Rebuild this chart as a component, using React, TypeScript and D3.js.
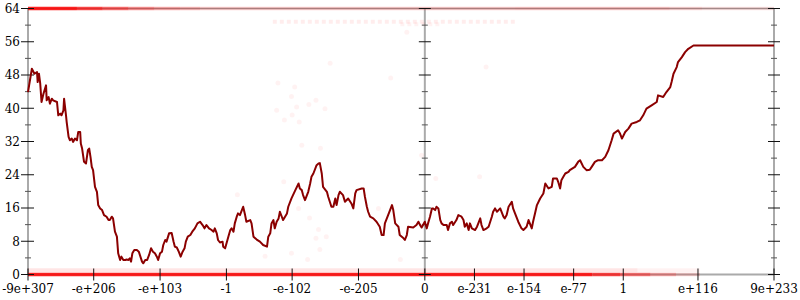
import React from "react";
import * as d3 from "d3";

// x positions are in "decades" of the signed double value, 0 = zero, mirrored for negatives
const xTickValues = [-616, -514, -411, -308, -206, -103, 0, 77, 154, 231, 308, 424, 542];
const xTickLabels = ["-9e+307", "-e+206", "-e+103", "-1", "-e-102", "-e-205", "0", "e-231", "e-154", "e-77", "1", "e+116", "9e+233"];
const yMajorTicks = [0, 8, 16, 24, 32, 40, 48, 56, 64];
const yMinorTicks = [4, 12, 20, 28, 36, 44, 52, 60];

const lineX = [
  -616, -610, -606, -602, -601, -599, -597, -595, -592, -588, -587, -584, -582, -579, -577, -571, -569, -566, -564, -561,
  -560, -557, -556, -553, -551, -548, -546, -543, -540, -538, -535, -534, -532, -529, -526, -523, -521, -519, -517, -515,
  -512, -509, -507, -504, -501, -498, -494, -491, -489, -486, -484, -481, -478, -476, -473, -471, -468, -465, -463, -460,
  -458, -456, -454, -451, -447, -444, -439, -437, -434, -431, -428, -425, -422, -419, -416, -414, -411, -408, -406, -403,
  -401, -397, -393, -390, -388, -385, -382, -379, -376, -373, -371, -368, -364, -361, -357, -353, -349, -345, -342, -339,
  -335, -331, -328, -326, -323, -321, -318, -314, -313, -310, -305, -302, -300, -297, -295, -292, -290, -287, -284, -282,
  -279, -277, -271, -269, -266, -261, -256, -251, -245, -243, -240, -238, -235, -233, -230, -227, -225, -220, -214, -212,
  -207, -201, -196, -194, -191, -189, -186, -181, -178, -176, -173, -168, -165, -163, -160, -158, -152, -150, -145, -142,
  -139, -137, -134, -132, -127, -124, -119, -114, -111, -108, -106, -98, -95, -93, -90, -88, -85, -80, -75, -70,
  -67, -64, -62, -57, -54, -51, -49, -46, -41, -39, -33, -31, -28, -26, -18, -13, -10, -7, -5, 0,
  3, 5, 8, 11, 13, 16, 18, 21, 24, 26, 29, 34, 36, 39, 42, 44, 49, 52, 57, 60,
  62, 65, 68, 70, 73, 78, 81, 83, 86, 88, 91, 96, 99, 104, 106, 109, 112, 117, 122, 124,
  127, 130, 135, 137, 140, 145, 150, 153, 158, 161, 166, 168, 171, 174, 179, 184, 187, 192, 197, 199,
  205, 207, 210, 212, 215, 218, 223, 225, 233, 238, 241, 246, 251, 256, 259, 264, 269, 275, 280, 285,
  290, 293, 300, 303, 306, 311, 316, 321, 329, 334, 339, 344, 352, 360, 362, 370, 375, 381, 383, 386,
  391, 393, 399, 404, 409, 417, 542,
];
const lineY = [
  43.9, 49.5, 48.3, 48.7, 46.3, 48.3, 45.9, 41.5, 43.5, 45.5, 41.9, 42.7, 41.1, 42.3, 41.9, 41.5, 38.3, 38.7, 38.3, 39.5,
  42.3, 38.3, 36.7, 33.1, 32.3, 32.7, 31.9, 32.7, 32.3, 34.3, 34.3, 31.5, 30.3, 27.1, 26.7, 29.9, 30.3, 28.3, 25.9, 25.1,
  21.1, 19.9, 16.7, 15.9, 15.5, 14.3, 13.9, 13.1, 13.1, 13.9, 13.5, 10.3, 9.1, 5.1, 3.5, 4.3, 3.5, 3.5, 3.6, 3.5,
  3.9, 3.1, 5.1, 5.9, 5.9, 5.5, 3.1, 2.7, 3.5, 3.5, 4.7, 6.3, 5.5, 5.1, 4.3, 3.5, 5.1, 5.5, 7.1, 8.3,
  7.9, 9.9, 10.0, 7.9, 6.7, 6.5, 5.5, 4.3, 5.5, 6.3, 7.9, 9.1, 9.5, 10.3, 11.1, 12.3, 12.7, 11.9, 11.1, 11.9,
  11.1, 10.7, 10.3, 11.1, 9.9, 8.3, 7.7, 7.9, 6.7, 6.3, 9.1, 10.7, 11.1, 10.3, 12.3, 13.9, 14.7, 14.3, 15.5, 16.3,
  14.3, 12.7, 13.1, 12.3, 9.1, 8.4, 7.9, 7.1, 6.7, 9.1, 9.9, 12.3, 13.1, 11.1, 12.7, 13.5, 15.1, 13.1, 14.7, 16.3,
  18.3, 20.3, 21.9, 20.7, 20.3, 19.1, 17.9, 19.9, 21.9, 23.5, 24.3, 26.3, 26.7, 26.8, 24.3, 21.1, 19.9, 18.7, 16.3, 16.3,
  18.3, 16.7, 19.1, 19.9, 19.1, 17.5, 18.3, 17.1, 15.9, 19.5, 20.3, 20.7, 20.7, 18.7, 16.3, 15.1, 13.9, 13.5, 12.7, 11.5,
  9.5, 9.5, 12.3, 14.3, 15.5, 16.7, 15.5, 12.3, 11.5, 9.5, 8.7, 8.3, 9.5, 11.5, 11.3, 11.9, 12.7, 11.8, 11.3, 12.7,
  11.1, 12.3, 13.9, 15.9, 15.9, 15.5, 16.3, 15.9, 13.1, 12.3, 11.9, 11.9, 10.7, 12.3, 12.7, 11.9, 13.1, 14.3, 13.9, 13.1,
  11.5, 12.3, 10.7, 12.3, 11.1, 10.7, 11.5, 12.3, 13.5, 11.9, 10.7, 11.1, 11.5, 13.9, 15.1, 15.9, 15.1, 15.9, 13.9, 13.5,
  14.3, 16.3, 17.5, 15.9, 14.7, 12.7, 11.1, 10.7, 11.5, 13.1, 11.1, 12.7, 14.7, 16.7, 18.3, 19.5, 21.9, 20.7, 21.1, 23.1,
  23.1, 22.3, 20.7, 22.7, 23.5, 24.3, 24.7, 25.1, 25.9, 27.1, 27.5, 25.9, 25.1, 25.2, 25.9, 27.1, 27.5, 27.5, 28.3, 29.9,
  32.3, 33.9, 34.7, 33.9, 32.7, 34.3, 35.1, 36.3, 36.7, 37.1, 38.3, 39.9, 40.7, 41.5, 43.1, 42.7, 43.9, 45.1, 46.3, 48.3,
  49.9, 51.1, 52.3, 53.5, 54.3, 55.1, 55.1,
];

// dense sample bands (start, end, value, opacity)
const bandStart = [-616, -540, -500, -460, -420, -380, -349, 140, 380, 430, -616, 260, 303, 350, 390, -616, 330];
const bandEnd = [-540, -500, -460, -420, -380, -349, 140, 380, 430, 542, 260, 303, 350, 390, 427, 330, 427];
const bandValue = [64, 64, 64, 64, 64, 64, 64, 64, 64, 64, 0, 0, 0, 0, 0, 1, 1];
const bandOpacity = [0.85, 0.7, 0.55, 0.4, 0.3, 0.25, 0.18, 0.2, 0.15, 0.1, 0.85, 0.7, 0.5, 0.3, 0.15, 0.1, 0.05];

// sparse row of samples near the top (start, end, value, opacity)
const rowStart = [-236, -38];
const rowEnd = [140, 24];
const rowValue = [60.8, 60.2];
const rowOpacity = [0.07, 0.05];

// scattered faint samples
const dotX = [-147, -228, -202, -207, -199, -230, -218, -206, -195, -180, -169, -155, -53, -191, -162, -219, -5, 17, -291, -196,
  -179, -165, -153, -169, -163, -207, -182, -248, -72, -38, 95, -28, 85];
const dotY = [50.8, 46.1, 45.1, 42.8, 40.3, 39.5, 37.2, 38.4, 36.7, 40.9, 41.9, 39.9, 47.3, 31.1, 30.4, 22.3, 28.7, 23.1, 19.2, 15.9,
  13.6, 10.8, 9.1, 8.7, 6.0, 5.1, 3.6, 4.4, 15.9, 3.6, 49.9, 58.3, 23.5];

export default function App() {
  const W = 800, H = 300;
  const x = d3.scaleLinear().domain([-616, 542]).range([28, 774]);
  const y = d3.scaleLinear().domain([0, 64]).range([274.5, 8.5]);
  const line = d3.line<number>().x((_, i) => x(lineX[i])).y((d) => y(d));
  const axisXs = [x(-616), x(0), x(542)];
  const font = "'DejaVu Serif', serif";

  return (
    <svg width={W} height={H} style={{ position: "absolute", left: 0, top: 0, background: "#fff" }}>
      {/* frame lines */}
      <line x1={x(-616)} x2={x(542)} y1={y(64)} y2={y(64)} stroke="#999" strokeWidth={1.5} />
      <line x1={x(-616)} x2={x(542)} y1={y(0)} y2={y(0)} stroke="#aaa" strokeWidth={2} />
      {axisXs.map((ax, i) => (
        <line key={"ax" + i} x1={ax} x2={ax} y1={y(0)} y2={y(64)} stroke="#aaa" strokeWidth={2} />
      ))}
      {/* bands */}
      {bandStart.map((s, i) => (
        <line key={"b" + i} x1={x(s)} x2={x(bandEnd[i])} y1={y(bandValue[i])} y2={y(bandValue[i])}
          stroke="#ff0000" strokeOpacity={bandOpacity[i]} strokeWidth={bandValue[i] === 1 ? 4 : 3.5} />
      ))}
      {rowStart.map((s, i) => (
        <line key={"r" + i} x1={x(s)} x2={x(rowEnd[i])} y1={y(rowValue[i])} y2={y(rowValue[i])}
          stroke="#ff0000" strokeOpacity={rowOpacity[i]} strokeWidth={4} strokeDasharray="4 3" />
      ))}
      {dotX.map((d, i) => (
        <circle key={"d" + i} cx={x(d)} cy={y(dotY[i])} r={2.5} fill="#ff0000" fillOpacity={0.05} />
      ))}
      {/* y ticks */}
      {axisXs.map((ax, j) => (
        <g key={"yt" + j}>
          {yMajorTicks.map((t) => (
            <line key={"M" + t} x1={ax - (j === 0 ? 7 : 6)} x2={ax + 6} y1={y(t)} y2={y(t)} stroke="#111" strokeWidth={1} />
          ))}
          {yMinorTicks.map((t) => (
            <line key={"m" + t} x1={ax - 3} x2={ax + 3} y1={y(t)} y2={y(t)} stroke="#555" strokeWidth={1} />
          ))}
        </g>
      ))}
      {yMajorTicks.map((t) => (
        <text key={"yl" + t} x={20} y={y(t)} dy="0.36em" textAnchor="end" fontFamily={font} fontSize={12} fill="#000">
          {t}
        </text>
      ))}
      {/* x ticks */}
      {xTickValues.map((v, i) => (
        <g key={"xt" + i}>
          <line x1={x(v)} x2={x(v)} y1={y(0) - 6} y2={y(0) + 6} stroke="#111" strokeWidth={1} />
          <text x={x(v)} y={293} textAnchor="middle" fontFamily={font} fontSize={12} fill="#000">
            {xTickLabels[i]}
          </text>
        </g>
      ))}
      {/* series */}
      <path d={line(lineY) || ""} fill="none" stroke="#8b0000" strokeWidth={2} strokeLinejoin="round" />
    </svg>
  );
}
